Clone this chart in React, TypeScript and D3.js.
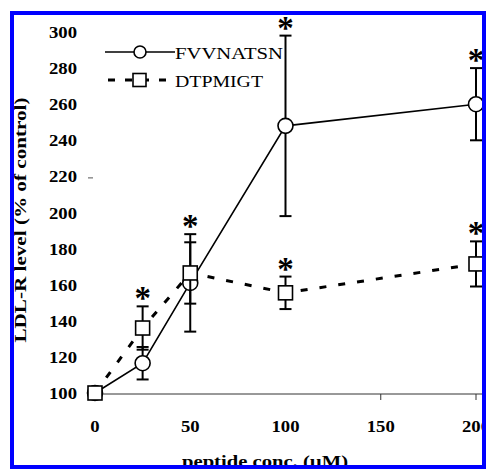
import React from "react";
import * as d3 from "d3";

const concentrations = [0, 25, 50, 100, 200];
const fvvMeans = [100, 116.5, 161, 248, 260];
const fvvErrors = [0, 9, 27, 50, 20];
const fvvStars = [false, false, true, true, true];
const dtpMeans = [100, 136, 166.5, 155.5, 171.5];
const dtpErrors = [0, 12, 17, 9, 12.5];
const dtpStars = [false, true, false, true, true];
const yTicks = [100, 120, 140, 160, 180, 200, 220, 240, 260, 280, 300];
const xTickLabels = [0, 50, 100, 150, 200];
const xTickMarks = [150, 200];
const seriesNames = ["FVVNATSN", "DTPMIGT"];
const xTitle = "peptide conc. (\u00b5M)";
const yTitle = "LDL-R level (% of control)";

export default function App() {
  const W = 486, H = 469;
  const x = d3.scaleLinear().domain([0, 200]).range([95, 476]);
  const y = d3.scaleLinear().domain([100, 300]).range([393, 32]);
  const line = d3.line<number>().x((_, i) => x(concentrations[i])).y((d) => y(d));
  const serif = "'Liberation Serif', 'Times New Roman', serif";
  const cap = 6;

  const errBars = (means: number[], errs: number[], key: string) =>
    means.map((m, i) =>
      errs[i] > 0 ? (
        <g key={key + i} stroke="#000" strokeWidth={2}>
          <line x1={x(concentrations[i])} x2={x(concentrations[i])} y1={y(m - errs[i])} y2={y(m + errs[i])} />
          <line x1={x(concentrations[i]) - cap} x2={x(concentrations[i]) + cap} y1={y(m - errs[i])} y2={y(m - errs[i])} />
          <line x1={x(concentrations[i]) - cap} x2={x(concentrations[i]) + cap} y1={y(m + errs[i])} y2={y(m + errs[i])} />
        </g>
      ) : null
    );

  const stars = (means: number[], errs: number[], flags: boolean[], key: string) =>
    means.map((m, i) =>
      flags[i] ? (
        <text key={key + i} x={x(concentrations[i])} y={y(m + errs[i]) + 3} textAnchor="middle"
          fontFamily={serif} fontWeight="bold" fontSize={33}>*</text>
      ) : null
    );

  return (
    <svg width={W} height={H} style={{ position: "absolute", left: 0, top: 0, background: "#fff" }}>
      <rect x={0} y={0} width={W} height={H} fill="#fff" />
      {/* x axis */}
      <line x1={x(0)} x2={482} y1={y(100) + 1} y2={y(100) + 1} stroke="#333" strokeWidth={1} />
      {xTickMarks.map((t) => (
        <line key={"xt" + t} x1={x(t)} x2={x(t)} y1={y(100) + 1} y2={y(100) + 7} stroke="#333" strokeWidth={1} />
      ))}
      {xTickLabels.map((t) => (
        <text key={"xl" + t} transform={`translate(${x(t)},${431.5}) scale(1.1,1)`} textAnchor="middle"
          fontFamily={serif} fontWeight="bold" fontSize={17}>{t}</text>
      ))}
      {yTicks.map((t) => (
        <text key={"yl" + t} transform={`translate(77,${y(t) + 6}) scale(1.1,1)`} textAnchor="end"
          fontFamily={serif} fontWeight="bold" fontSize={17}>{t}</text>
      ))}
      <line x1={88} x2={93} y1={y(220) + 1.5} y2={y(220) + 1.5} stroke="#555" strokeWidth={1} />
      <text x={265} y={466.5} textAnchor="middle" fontFamily={serif} fontWeight="bold" fontSize={17}
        textLength={166} lengthAdjust="spacingAndGlyphs">{xTitle}</text>
      <text transform={`translate(26,220) rotate(-90)`} textAnchor="middle" fontFamily={serif}
        fontWeight="bold" fontSize={17} textLength={245} lengthAdjust="spacingAndGlyphs">{yTitle}</text>

      {/* FVVNATSN series */}
      <path d={line(fvvMeans) || ""} fill="none" stroke="#000" strokeWidth={1.6} />
      {errBars(fvvMeans, fvvErrors, "fe")}
      {fvvMeans.map((m, i) => (
        <circle key={"fc" + i} cx={x(concentrations[i])} cy={y(m)} r={7.5} fill="#fff" stroke="#000" strokeWidth={1.6} />
      ))}
      {/* DTPMIGT series */}
      <path d={line(dtpMeans) || ""} fill="none" stroke="#000" strokeWidth={3} strokeDasharray="7 12" />
      {errBars(dtpMeans, dtpErrors, "de")}
      {dtpMeans.map((m, i) => (
        <rect key={"dr" + i} x={x(concentrations[i]) - 7} y={y(m) - 7} width={14} height={14} fill="#fff" stroke="#000" strokeWidth={1.6} />
      ))}
      {stars(fvvMeans, fvvErrors, fvvStars, "fs")}
      {stars(dtpMeans, dtpErrors, dtpStars, "ds")}

      {/* legend */}
      <line x1={105} x2={175} y1={52} y2={52} stroke="#000" strokeWidth={1.6} />
      <circle cx={140} cy={52} r={6} fill="#fff" stroke="#000" strokeWidth={1.6} />
      <text x={175} y={59} fontFamily={serif} fontSize={17} textLength={108} lengthAdjust="spacingAndGlyphs">{seriesNames[0]}</text>
      <line x1={105} x2={175} y1={80} y2={80} stroke="#000" strokeWidth={3} strokeDasharray="7 10" strokeDashoffset={-3} />
      <rect x={133} y={73.5} width={13} height={13} fill="#fff" stroke="#000" strokeWidth={1.6} />
      <text x={175} y={86.5} fontFamily={serif} fontSize={17} textLength={88} lengthAdjust="spacingAndGlyphs">{seriesNames[1]}</text>

      {/* blue frame */}
      <rect x={12} y={13} width={472} height={454} fill="none" stroke="#0000ff" strokeWidth={4} />
    </svg>
  );
}
